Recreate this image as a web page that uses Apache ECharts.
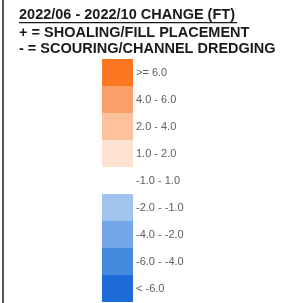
<!DOCTYPE html>
<html>
<head>
<meta charset="utf-8">
<script src="https://cdn.jsdelivr.net/npm/echarts@6/dist/echarts.min.js"></script>
<style>
  html, body { margin: 0; padding: 0; background: #fff; }
  #chart { width: 282px; height: 303px; }
</style>
</head>
<body>
<div id="chart"></div>
<script>
// legend classes, top to bottom
const classLabels = ['>= 6.0', '4.0 - 6.0', '2.0 - 4.0', '1.0 - 2.0', '-1.0 - 1.0',
  '-2.0 - -1.0', '-4.0 - -2.0', '-6.0 - -4.0', '< -6.0']
const classColors = ['#fb7722', '#fca06a', '#fdc29c', '#fee3d5', '#ffffff',
  '#a0c4ee', '#72a6e6', '#4589dd', '#1c6bd6']
const swatchValues = [1, 1, 1, 1, 1, 1, 1, 1, 1]
const headerLines = ['2022/06 - 2022/10 CHANGE (FT)', '+ = SHOALING/FILL PLACEMENT', '- = SCOURING/CHANNEL DREDGING']

const chart = echarts.init(document.getElementById('chart'), null, { renderer: 'canvas' })

const headerFont = 'bold 14.5px "Liberation Sans", Arial, sans-serif'
const headerTops = [7, 25, 41]

const option = {
  animation: false,
  grid: { left: 102, top: 59, width: 31, height: 243 },
  xAxis: { type: 'value', min: 0, max: 1, show: false },
  yAxis: {
    type: 'category',
    data: classLabels,
    inverse: true,
    position: 'right',
    axisLine: { show: false },
    axisTick: { show: false },
    axisLabel: {
      margin: 3,
      color: '#5f5f5f',
      fontSize: 11,
      fontFamily: '"Liberation Sans", Arial, sans-serif'
    }
  },
  series: [{
    type: 'bar',
    data: swatchValues.map((v, i) => ({ value: v, itemStyle: { color: classColors[i] } })),
    barWidth: '100%',
    barCategoryGap: 0
  }],
  graphic: [
    { type: 'rect', shape: { x: 2, y: 0, width: 2, height: 303 }, style: { fill: '#555' } },
    ...headerLines.map((t, i) => ({
      type: 'text',
      left: 19,
      top: headerTops[i],
      style: { text: t, font: headerFont, fill: '#1a1a1a' }
    })),
    { type: 'rect', shape: { x: 19, y: 22, width: 218, height: 1.3 }, style: { fill: '#1a1a1a' } }
  ]
}

chart.setOption(option)
</script>
</body>
</html>
